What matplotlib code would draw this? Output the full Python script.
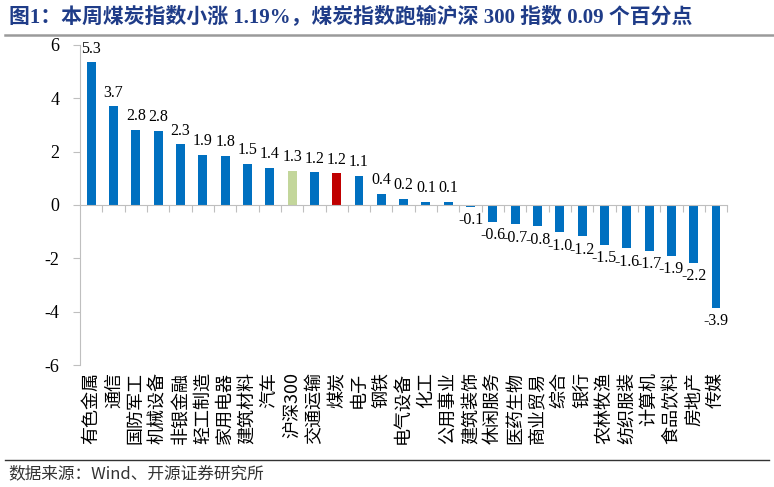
"""Weekly industry index returns bar chart"""

import matplotlib
matplotlib.use("Agg")
import matplotlib.pyplot as plt
import matplotlib.transforms as mtransforms
from matplotlib.lines import Line2D

# Data
categories = [
    "有色金属", "通信", "国防军工", "机械设备", "非银金融", "轻工制造", "家用电器",
    "建筑材料", "汽车", "沪深300", "交通运输", "煤炭", "电子", "钢铁", "电气设备",
    "化工", "公用事业", "建筑装饰", "休闲服务", "医药生物", "商业贸易", "综合",
    "银行", "农林牧渔", "纺织服装", "计算机", "食品饮料", "房地产", "传媒",
]
values = [
    5.34, 3.70, 2.82, 2.77, 2.27, 1.88, 1.84, 1.54, 1.39, 1.28, 1.22, 1.19, 1.10,
    0.42, 0.22, 0.12, 0.11, -0.07, -0.63, -0.72, -0.80, -1.02, -1.18, -1.50,
    -1.62, -1.71, -1.90, -2.16, -3.86,
]
yticks = [-6, -4, -2, 0, 2, 4, 6]
highlight = {"沪深300": "#C3D69B", "煤炭": "#C00000"}

title = "图1：本周煤炭指数小涨 1.19%，煤炭指数跑输沪深 300 指数 0.09 个百分点"
source = "数据来源：Wind、开源证券研究所"

SERIF = ["Liberation Serif", "Noto Sans CJK SC"]
CJK = ["Noto Sans CJK SC", "DejaVu Sans"]
BLUE = "#0070C0"
GRAY = "#BFBFBF"

fig = plt.figure(figsize=(7.74, 4.87), dpi=100)
ax = fig.add_axes([0.1035, 0.2505, 0.836, 0.6575])

x = list(range(len(categories)))
colors = [highlight.get(c, BLUE) for c in categories]
ax.bar(x, values, width=0.4, color=colors, zorder=2)

ax.set_xlim(-0.5, len(categories) - 0.5)
ax.set_ylim(-6, 6)
ax.set_yticks(yticks)
ax.set_yticklabels([str(t) for t in yticks], family=SERIF, fontsize=13)
ax.tick_params(axis="y", length=5, color=GRAY, pad=10)

# category axis sits at zero with ticks between bars
ax.spines["bottom"].set_position(("data", 0))
ax.spines["bottom"].set_color(GRAY)
ax.spines["left"].set_color(GRAY)
ax.spines["top"].set_visible(False)
ax.spines["right"].set_visible(False)
ax.set_xticks([i + 0.5 for i in x])
ax.set_xticklabels([])
ax.tick_params(axis="x", length=5, color=GRAY, direction="out")

# value labels
for i, v in enumerate(values):
    if v >= 0:
        ax.annotate(f"{v:.1f}", (i, v), xytext=(0, 4), textcoords="offset points",
                    ha="center", va="bottom", family=SERIF, fontsize=11.5)
    else:
        ax.annotate(f"{v:.1f}", (i, v), xytext=(0, -4), textcoords="offset points",
                    ha="center", va="top", family=SERIF, fontsize=11.5)

# category names below the plot area
trans = mtransforms.blended_transform_factory(ax.transData, ax.transAxes)
for i, name in enumerate(categories):
    ax.text(i, -0.022, name, transform=trans, rotation=90, ha="center", va="top",
            family=CJK, fontsize=13)

# title, rules and source
fig.text(0.011, 0.965, title, family=SERIF, fontsize=15, fontweight="bold",
         color="#1F3C88", ha="left", va="center")
fig.add_artist(Line2D([0.006, 1.0], [0.928, 0.928], color="#9A9A9A", lw=1.8,
                      transform=fig.transFigure))
fig.add_artist(Line2D([0.006, 0.993], [0.055, 0.055], color="#333333", lw=1.0,
                      transform=fig.transFigure))
fig.text(0.011, 0.028, source, family=CJK, fontsize=12, color="#333333",
         ha="left", va="center")

fig.savefig("out.png", dpi=100)
